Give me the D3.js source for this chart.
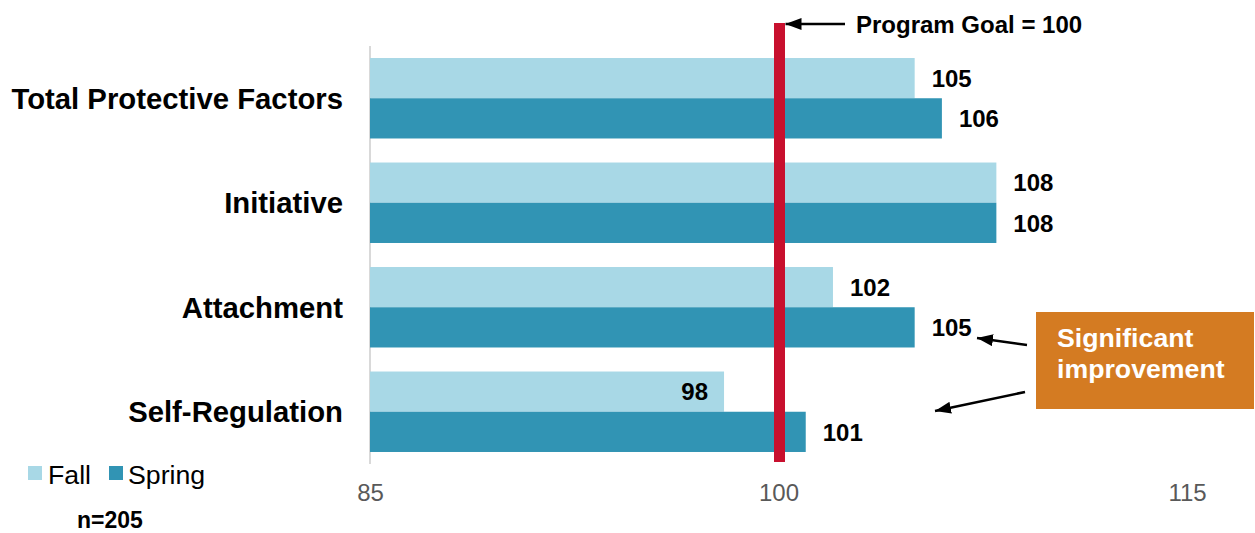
<!DOCTYPE html>
<html><head><meta charset="utf-8">
<script src="https://cdn.jsdelivr.net/npm/d3@7"></script>
<style>
html,body{margin:0;padding:0;background:#fff;}
svg{display:block;font-family:"Liberation Sans",Arial,sans-serif;}
</style></head>
<body>
<svg id="chart" width="1255" height="533"></svg>
<script>
const categories = ["Total Protective Factors","Initiative","Attachment","Self-Regulation"];
const seriesNames = ["Fall","Spring"];
const fallValues = [105,108,102,98];
const springValues = [106,108,105,101];
const tickValues = [85,100,115];
const goalValue = 100;

const colors = {Fall:"#A8D8E6", Spring:"#3194B4"};
const svg = d3.select("#chart");

const x = d3.scaleLinear().domain([85,115]).range([370,1187]);
const y = d3.scaleBand().domain(categories).range([46,464]).paddingInner(0.23).paddingOuter(0.115);
const ySub = d3.scaleBand().domain(seriesNames).range([0,y.bandwidth()]);

const data = categories.map((c,i)=>({cat:c, Fall:fallValues[i], Spring:springValues[i]}));

// axis line
svg.append("line").attr("x1",x(85)).attr("x2",x(85)).attr("y1",46).attr("y2",464)
  .attr("stroke","#d9d9d9").attr("stroke-width",2);

// bars
const g = svg.append("g");
data.forEach(d=>{
  seriesNames.forEach(s=>{
    g.append("rect")
      .attr("x",x(85))
      .attr("y",y(d.cat)+ySub(s))
      .attr("width",x(d[s])-x(85))
      .attr("height",ySub.bandwidth())
      .attr("fill",colors[s]);
  });
});

// value labels
data.forEach(d=>{
  seriesNames.forEach(s=>{
    const v = d[s];
    const inside = v < goalValue;
    g.append("text")
      .attr("x", inside ? x(v)-16 : x(v)+17)
      .attr("y", y(d.cat)+ySub(s)+ySub.bandwidth()/2)
      .attr("dy","0.36em")
      .attr("text-anchor", inside ? "end" : "start")
      .attr("font-size",24).attr("font-weight","bold").attr("fill","#000")
      .text(v);
  });
});

// category labels
categories.forEach(c=>{
  svg.append("text").attr("x",343).attr("y",y(c)+y.bandwidth()/2).attr("dy","0.36em")
    .attr("text-anchor","end").attr("font-size",29.3).attr("font-weight","bold").attr("fill","#000")
    .text(c);
});

// x tick labels
const xAxis = d3.axisBottom(x).tickValues(tickValues).tickSize(0).tickPadding(0);
const ax = svg.append("g").attr("transform","translate(0,484)").call(xAxis);
ax.select(".domain").remove();
ax.selectAll("text").attr("font-size",24).attr("fill","#595959")
  .attr("font-family","'Liberation Sans',Arial,sans-serif").attr("dy","0.71em");

// goal line
svg.append("rect").attr("x",x(goalValue)-4.5).attr("y",23).attr("width",11).attr("height",439)
  .attr("fill","#C8102E");

// arrowhead marker
const defs = svg.append("defs");
defs.append("marker").attr("id","arr").attr("viewBox","0 0 16 12").attr("refX",0).attr("refY",6)
  .attr("markerWidth",16).attr("markerHeight",12).attr("orient","auto")
  .attr("markerUnits","userSpaceOnUse")
  .append("path").attr("d","M0,6 L16,0 L16,12 Z").attr("fill","#000");

function arrow(x1,y1,x2,y2){
  svg.append("line").attr("x1",x1).attr("y1",y1).attr("x2",x2).attr("y2",y2)
    .attr("stroke","#000").attr("stroke-width",2.5).attr("marker-start","url(#arr)");
}
// goal annotation
arrow(x(goalValue)+7, 24, 845, 24);
svg.append("text").attr("x",856).attr("y",24).attr("dy","0.36em")
  .attr("font-size",24).attr("font-weight","bold").attr("fill","#000").text("Program Goal = " + goalValue);

// significant improvement box
svg.append("rect").attr("x",1036).attr("y",312).attr("width",218).attr("height",97).attr("fill","#D47B22");
svg.append("text").attr("x",1057).attr("y",347).attr("font-size",26.7).attr("font-weight","bold")
  .attr("fill","#fff").text("Significant");
svg.append("text").attr("x",1057).attr("y",378).attr("font-size",26.7).attr("font-weight","bold")
  .attr("fill","#fff").text("improvement");
arrow(977,338,1027,345);
arrow(935,411,1025,392);

// legend
const leg = svg.append("g");
[["Fall",28,48],["Spring",109,128]].forEach(([s,sx,tx])=>{
  leg.append("rect").attr("x",sx).attr("y",466).attr("width",14).attr("height",14).attr("fill",colors[s]);
  leg.append("text").attr("x",tx).attr("y",474).attr("dy","0.36em").attr("font-size",26.7).attr("fill","#000").text(s);
});
svg.append("text").attr("x",77).attr("y",528).attr("font-size",23).attr("font-weight","bold").attr("fill","#000").text("n=205");
</script>
</body></html>
